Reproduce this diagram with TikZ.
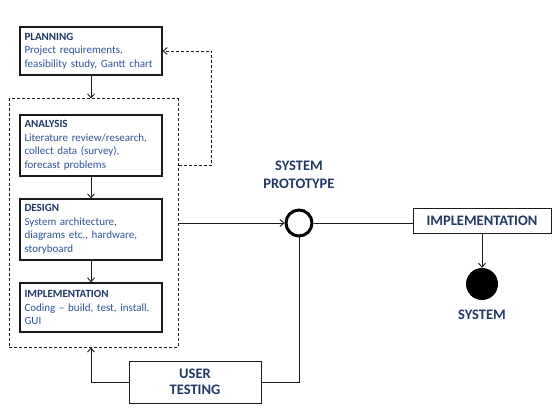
\documentclass[tikz,border=0pt]{standalone}
\usepackage{fontspec}
\setmainfont{Carlito}
\usetikzlibrary{arrows.meta, positioning}
\definecolor{title-color}{HTML}{1F3864}
\definecolor{body-color}{HTML}{2F5496}
\definecolor{line-color}{HTML}{1A1A1A}
\tikzset{
  phase-box/.style={
    draw=line-color, line width=1.1pt, fill=white, text width=133pt,
    inner xsep=4.5pt, inner ysep=4pt, align=left, text=body-color,
    font=\fontsize{11}{13.5}\selectfont
  },
  stage-box/.style={
    draw=line-color, line width=1pt, fill=white, align=center, text=title-color,
    font=\fontsize{14.5}{16.5}\selectfont\bfseries
  },
  stage-label/.style={align=center, text=title-color, font=\fontsize{14.5}{18}\selectfont\bfseries},
  flow/.style={-{Straight Barb[length=4pt, width=7pt]}, line width=0.9pt, draw=line-color},
  link/.style={line width=0.9pt, draw=line-color}
}
\newcommand{\phasetitle}[1]{\textbf{\textcolor{title-color}{#1}}}

\begin{document}
\begin{tikzpicture}[x=1pt, y=-1pt]
  \useasboundingbox (0,0) rectangle (552,414);

  \node[draw=line-color, line width=1pt, dash pattern=on 3pt off 2pt,
        minimum width=169pt, minimum height=248pt] (container) at (93.5,223) {};

  \node[phase-box, minimum height=48pt] (planning) at (91,51)
    {\phasetitle{PLANNING}\\Project requirements,\\feasibility study, Gantt chart};
  \node[phase-box, minimum height=61pt] (analysis) at (91,145.5)
    {\phasetitle{ANALYSIS}\\Literature review/research,\\collect data (survey),\\forecast problems};
  \node[phase-box, minimum height=61pt] (design) at (91,229.5)
    {\phasetitle{DESIGN}\\System architecture,\\diagrams etc., hardware,\\storyboard};
  \node[phase-box, minimum height=49pt] (coding) at (91,307.5)
    {\phasetitle{IMPLEMENTATION}\\Coding -- build, test, install.\\GUI};

  \node[circle, draw=black, line width=3pt, minimum size=26pt, inner sep=0pt] (proto) at (299,223) {};
  \node[stage-label] (proto-label) at (299,175) {SYSTEM\\PROTOTYPE};

  \node[stage-box, minimum width=138pt, minimum height=25pt] (deploy) at (482,221) {IMPLEMENTATION};
  \node[circle, fill=black, minimum size=32pt, inner sep=0pt] (system) at (482,284) {};
  \node[stage-label] (system-label) at (482,315) {SYSTEM};

  \node[stage-box, minimum width=132pt, minimum height=42pt] (testing) at (195,382) {USER\\TESTING};

  \draw[flow] (planning.south) -- (planning.south |- container.north);
  \draw[flow] (analysis) -- (design);
  \draw[flow] (design) -- (coding);
  \draw[flow] (proto.west -| container.east) -- (proto.west);
  \draw[link] (proto.east) -- (proto.east -| deploy.west);
  \draw[flow] (deploy.south) -- (system);
  \draw[link] (proto.south) |- (testing.east);
  \draw[flow] (testing.west) -| (planning.south |- container.south);

  % feedback loop back to planning
  \draw[flow, dash pattern=on 3pt off 2pt] ([yshift=58pt]container.east) -- ++(33,0) |- (planning.east);
\end{tikzpicture}
\end{document}
